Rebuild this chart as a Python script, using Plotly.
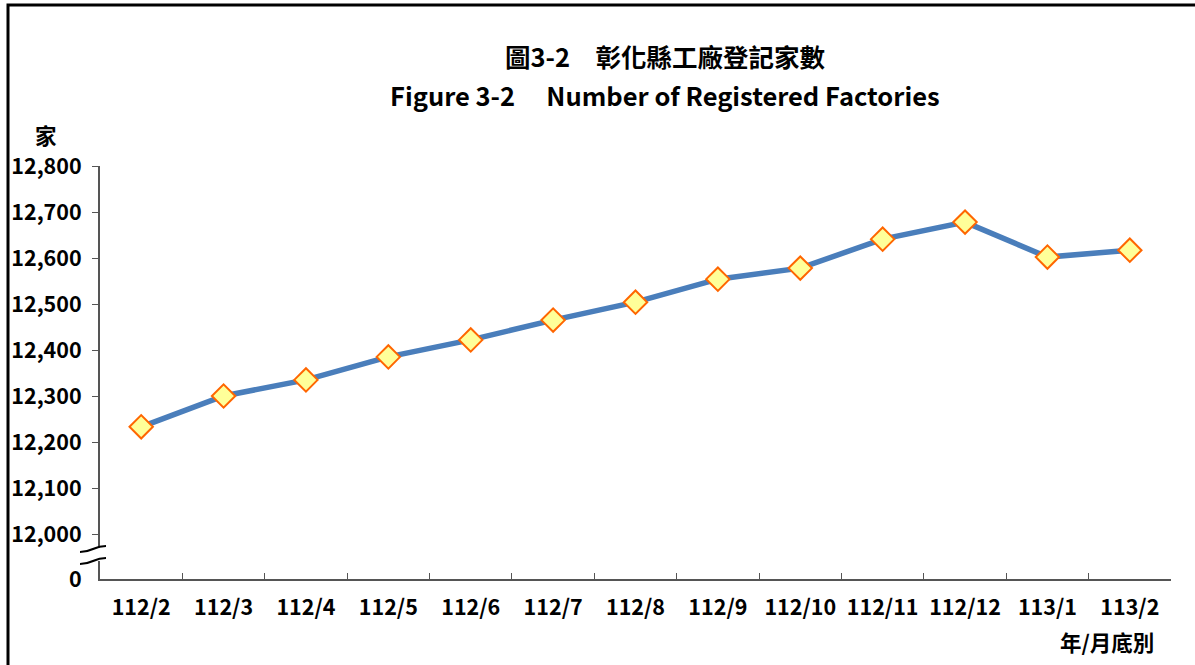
import plotly.graph_objects as go

months = ["112/2", "112/3", "112/4", "112/5", "112/6", "112/7", "112/8",
          "112/9", "112/10", "112/11", "112/12", "113/1", "113/2"]
factories = [12233, 12300, 12335, 12385, 12422, 12465, 12504,
             12554, 12578, 12641, 12678, 12602, 12617]
y_ticks = [12000, 12100, 12200, 12300, 12400, 12500, 12600, 12700, 12800]

FONT = "Noto Sans CJK TC"
AXIS_COLOR = "#555555"
TICK_SIZE = 21.5

fig = go.Figure()
fig.add_trace(go.Scatter(
    x=months, y=factories, mode="lines+markers",
    line=dict(color="#4A7EBB", width=5.5),
    marker=dict(symbol="diamond", size=18, color="#FFFF99",
                line=dict(color="#FF6600", width=2)),
    hoverinfo="x+y", showlegend=False,
))

# plot area geometry (pixels) used to place the break marks and texts
W, H = 1195, 665
L, R, T, B = 100, 24, 166, 86
pw, ph = W - L - R, H - T - B

def px(x):
    return (x - L) / pw

def py(y):
    return (H - B - y) / ph

# tiny dummy axis carrying the "0" tick under the break
fig.add_trace(go.Scatter(x=[months[0]], y=[0], yaxis="y2", mode="markers",
                         marker=dict(opacity=0), hoverinfo="skip", showlegend=False))

tick_font = dict(size=TICK_SIZE, family=FONT, weight="bold", color="#000000")

fig.update_layout(
    width=W, height=H,
    margin=dict(l=L, r=R, t=T, b=B),
    paper_bgcolor="white", plot_bgcolor="white",
    font=dict(family=FONT, color="#000000"),
    xaxis=dict(
        type="category", anchor="y2", range=[-0.5, len(months) - 0.5],
        showline=True, linecolor=AXIS_COLOR, linewidth=2,
        ticks="inside", tickson="boundaries", ticklen=6, tickcolor=AXIS_COLOR, tickwidth=1,
        showgrid=False, tickfont=tick_font, tickangle=0, ticklabelstandoff=8,
        automargin=False,
    ),
    yaxis=dict(
        domain=[py(548), 1], range=[11969.6, 12800], tickvals=y_ticks,
        tickformat=",d", showline=True, linecolor=AXIS_COLOR, linewidth=2,
        ticks="outside", ticklen=6, tickcolor=AXIS_COLOR, showgrid=False, zeroline=False,
        tickfont=tick_font, ticklabelstandoff=6, automargin=False,
    ),
    yaxis2=dict(
        domain=[0, py(561)], range=[0, 1], tickvals=[0], showline=True,
        linecolor=AXIS_COLOR, linewidth=2, ticks="", showgrid=False, zeroline=False,
        tickfont=tick_font, ticklabelstandoff=12, automargin=False,
    ),
)

# axis break marks
for yb in (549, 561):
    x0, x1, xm = px(80), px(106), px(93)
    ya, yb2 = py(yb + 3), py(yb - 3)
    fig.add_shape(type="path", xref="paper", yref="paper",
                  path=f"M {x0},{ya} C {xm},{ya} {xm},{yb2} {x1},{yb2}",
                  line=dict(color="#000000", width=2))

# outer frame (right and bottom edges fall outside the picture)
fig.add_shape(type="rect", xref="paper", yref="paper",
              x0=px(8), y0=py(H + 10), x1=px(W + 10), y1=py(5),
              line=dict(color="#000000", width=3), layer="below")

def label(text, x, y, font):
    fig.add_annotation(text=text, xref="paper", yref="paper", x=px(x), y=py(y),
                       xanchor="center", yanchor="middle", showarrow=False, font=font)

title_font = dict(family=FONT, size=25.5, color="#000000", weight="bold")
label("圖3-2\u3000彰化縣工廠登記家數", 665, 55, title_font)
label("Figure 3-2\u3000\u00a0Number of Registered Factories", 665, 95, title_font)
label("家", 46, 134, tick_font)
label("年/月底別", 1107, 641, tick_font)

# drop the browser's default page margin so the figure sits at the window corner
fig.write_html("out.html", config={"displayModeBar": False},
               post_script="document.body.style.margin='0';")
